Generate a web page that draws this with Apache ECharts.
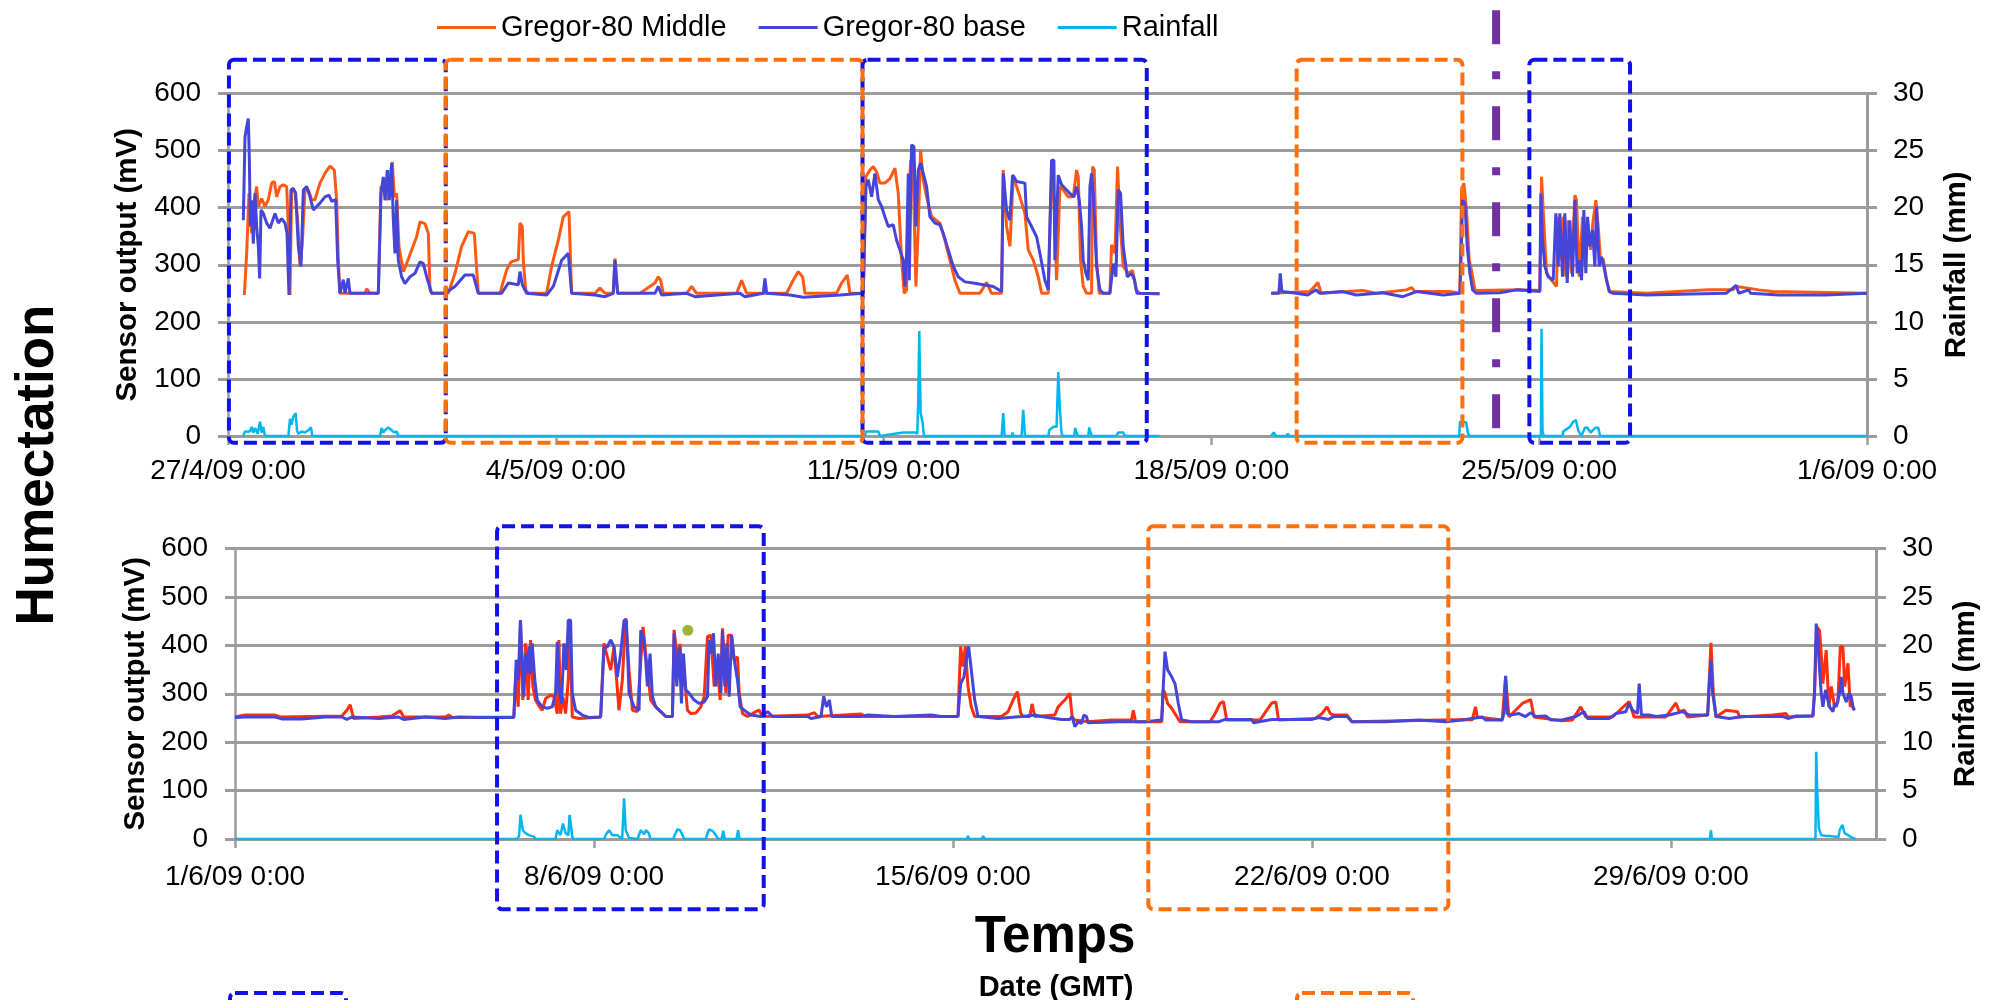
<!DOCTYPE html>
<html><head><meta charset="utf-8">
<script src="https://cdn.jsdelivr.net/npm/echarts@6/dist/echarts.min.js"></script>
<style>html,body{margin:0;padding:0;background:#fff}#c{width:1999px;height:1000px}</style>
</head><body><div id="c"></div><script>
// x values are days since panel start
const topTickLabels = ['27/4/09 0:00','4/5/09 0:00','11/5/09 0:00','18/5/09 0:00','25/5/09 0:00','1/6/09 0:00'];
const bottomTickLabels = ['1/6/09 0:00','8/6/09 0:00','15/6/09 0:00','22/6/09 0:00','29/6/09 0:00'];
const leftTicks = [0,100,200,300,400,500,600];
const rightTicks = [0,5,10,15,20,25,30];

const topMiddle = [[0.349,247],[0.399,320],[0.448,425],[0.505,355],[0.562,413],[0.612,437],[0.648,402],[0.719,416],[0.79,402],[0.861,414],[0.932,443],[0.989,446],[1.039,419],[1.11,437],[1.181,440],[1.253,437],[1.288,367],[1.324,247],[1.359,431],[1.431,428],[1.488,378],[1.537,297],[1.587,338],[1.644,431],[1.715,431],[1.786,414],[1.858,414],[1.964,443],[2.071,460],[2.178,473],[2.27,466],[2.32,414],[2.356,308],[2.391,250],[2.925,250],[2.961,258],[3.032,250],[3.21,250],[3.267,437],[3.338,431],[3.388,413],[3.423,437],[3.509,480],[3.552,419],[3.601,425],[3.651,332],[3.744,288],[3.815,302],[3.922,326],[4.028,349],[4.1,375],[4.206,372],[4.278,355],[4.313,256],[4.349,250],[4.705,250],[4.847,285],[4.989,332],[5.132,358],[5.26,355],[5.345,250],[5.808,250],[5.95,291],[6.043,305],[6.199,309],[6.235,373],[6.285,367],[6.306,308],[6.356,256],[6.413,250],[6.804,250],[6.911,297],[7.053,343],[7.16,384],[7.281,393],[7.338,250],[7.836,250],[7.943,259],[8.05,250],[8.228,250],[8.263,311],[8.32,250],[8.797,250],[9.117,268],[9.189,279],[9.238,273],[9.295,250],[9.794,250],[9.9,262],[10.007,250],[10.861,250],[10.968,273],[11.075,250],[11.929,250],[12.071,273],[12.178,288],[12.27,279],[12.32,250],[12.996,250],[13.103,268],[13.224,282],[13.281,250],[13.566,250],[13.623,454],[13.708,466],[13.779,472],[13.85,463],[13.922,443],[14.028,443],[14.135,451],[14.242,469],[14.313,425],[14.384,308],[14.441,250],[14.491,256],[14.527,396],[14.577,483],[14.633,454],[14.69,262],[14.74,367],[14.79,501],[14.847,448],[14.918,419],[15.025,384],[15.203,373],[15.309,343],[15.416,308],[15.523,273],[15.63,250],[16.057,250],[16.199,269],[16.306,250],[16.52,250],[16.555,466],[16.626,367],[16.698,332],[16.769,457],[16.84,437],[16.911,419],[17.018,390],[17.089,326],[17.196,308],[17.302,279],[17.374,250],[17.516,250],[17.587,466],[17.637,413],[17.694,273],[17.73,355],[17.765,437],[17.836,431],[17.943,419],[18.05,419],[18.121,466],[18.157,454],[18.206,308],[18.263,262],[18.335,250],[18.441,250],[18.463,472],[18.498,466],[18.548,308],[18.605,250],[18.833,250],[18.868,335],[18.94,320],[18.996,472],[19.046,378],[19.117,297],[19.224,285],[19.317,290],[19.395,256],[19.466,250],[19.893,249],[21,null],[22.278,250],[23.096,253],[23.203,262],[23.274,269],[23.345,250],[24.235,255],[24.52,250],[25.164,256],[25.274,260],[25.345,253],[26.093,253],[26.306,250],[26.342,431],[26.391,443],[26.448,396],[26.505,308],[26.555,290],[26.626,256],[26.698,255],[27.587,256],[28.014,255],[28.05,454],[28.1,373],[28.157,285],[28.263,273],[28.37,262],[28.406,384],[28.477,308],[28.512,384],[28.569,279],[28.619,378],[28.69,285],[28.762,422],[28.797,413],[28.854,279],[28.925,384],[28.975,297],[29.025,378],[29.096,326],[29.153,378],[29.21,413],[29.26,367],[29.31,308],[29.367,310],[29.438,273],[29.509,253],[30.292,250],[31.609,256],[31.822,256],[32.135,256],[32.221,262],[32.69,256],[32.975,253],[35,250]];

const topBase = [[0.327,378],[0.363,524],[0.399,542],[0.434,556],[0.456,484],[0.477,367],[0.505,413],[0.541,337],[0.577,425],[0.612,367],[0.648,332],[0.676,276],[0.705,396],[0.754,390],[0.826,373],[0.897,364],[1.004,390],[1.075,373],[1.146,381],[1.217,373],[1.26,355],[1.302,247],[1.345,431],[1.395,434],[1.445,425],[1.502,332],[1.559,297],[1.609,431],[1.68,437],[1.751,419],[1.822,396],[1.893,402],[1.964,408],[2.071,419],[2.157,422],[2.214,411],[2.299,414],[2.342,308],[2.391,250],[2.463,274],[2.498,250],[2.569,276],[2.605,250],[2.676,250],[3.21,250],[3.267,425],[3.317,454],[3.352,413],[3.402,466],[3.445,413],[3.495,478],[3.53,378],[3.566,320],[3.601,413],[3.637,308],[3.708,279],[3.779,267],[3.886,279],[3.993,285],[4.1,305],[4.171,302],[4.242,279],[4.349,250],[4.633,250],[4.847,262],[5.06,282],[5.238,282],[5.345,250],[5.843,250],[5.986,268],[6.199,265],[6.235,288],[6.285,265],[6.377,250],[6.804,247],[6.947,262],[7.125,308],[7.267,320],[7.338,250],[7.836,247],[8.05,244],[8.228,250],[8.263,308],[8.32,250],[8.797,250],[9.117,250],[9.189,262],[9.26,247],[9.794,250],[9.972,244],[10.932,250],[11.039,244],[11.431,250],[11.466,276],[11.502,250],[12.0,247],[12.285,243],[13.068,247],[13.566,250],[13.623,437],[13.673,449],[13.744,419],[13.815,460],[13.886,414],[13.957,402],[14.028,384],[14.1,367],[14.206,370],[14.278,343],[14.349,326],[14.42,308],[14.456,262],[14.491,320],[14.527,460],[14.548,273],[14.598,510],[14.648,507],[14.69,367],[14.74,466],[14.79,478],[14.847,460],[14.918,437],[14.989,384],[15.096,373],[15.203,370],[15.274,355],[15.381,326],[15.488,297],[15.594,279],[15.737,270],[15.915,268],[16.128,265],[16.342,262],[16.52,253],[16.555,460],[16.626,396],[16.698,378],[16.754,457],[16.84,446],[17.018,443],[17.053,384],[17.16,367],[17.267,349],[17.338,320],[17.445,273],[17.516,256],[17.587,483],[17.637,483],[17.658,308],[17.73,457],[17.801,440],[17.872,434],[17.979,425],[18.064,419],[18.121,437],[18.178,413],[18.228,367],[18.263,308],[18.32,285],[18.37,273],[18.406,437],[18.441,460],[18.477,425],[18.548,297],[18.619,256],[18.69,250],[18.833,250],[18.904,302],[18.961,279],[19.01,431],[19.06,425],[19.117,332],[19.203,279],[19.295,285],[19.359,273],[19.409,250],[19.893,249],[21,null],[22.278,250],[22.441,250],[22.47,285],[22.505,253],[22.811,250],[23.06,247],[23.167,253],[23.238,256],[23.31,250],[23.808,253],[24.093,247],[24.662,251],[25.089,244],[25.38,253],[25.95,247],[26.306,250],[26.342,343],[26.363,414],[26.413,407],[26.463,332],[26.52,285],[26.577,256],[26.662,250],[27.16,251],[27.516,256],[28.014,253],[28.036,425],[28.071,343],[28.121,297],[28.192,279],[28.299,273],[28.356,390],[28.406,297],[28.441,390],[28.498,279],[28.548,390],[28.598,268],[28.655,378],[28.712,279],[28.762,414],[28.811,285],[28.854,308],[28.904,273],[28.954,396],[28.996,285],[29.032,384],[29.082,332],[29.139,361],[29.189,297],[29.224,402],[29.281,297],[29.331,314],[29.381,297],[29.438,273],[29.495,253],[29.58,250],[30.292,247],[31.993,250],[32.135,259],[32.206,264],[32.263,250],[32.477,256],[32.512,250],[33.117,247],[34.114,247],[35,250]];

const topRain = [[0.327,0],[0.363,0.4],[0.47,0.4],[0.505,0.8],[0.541,0.3],[0.577,0.7],[0.633,0.2],[0.683,1.25],[0.719,0.3],[0.754,0.8],[0.79,0],[1.288,0],[1.324,1.5],[1.359,1.0],[1.395,1.7],[1.445,2.0],[1.473,0.5],[1.502,0.2],[1.573,0.4],[1.644,0.3],[1.715,0.5],[1.772,0.75],[1.8,0],[3.246,0],[3.281,0.7],[3.317,0.3],[3.352,0.5],[3.423,0.75],[3.495,0.5],[3.552,0.3],[3.601,0.4],[3.637,0],[13.594,0],[13.63,0.4],[13.886,0.4],[13.922,0],[14.42,0.3],[14.669,0.3],[14.719,0.2],[14.74,3.2],[14.762,9.2],[14.79,2.0],[14.833,1.2],[14.861,0],[16.52,0],[16.555,2.0],[16.584,0],[16.74,0],[16.754,0.3],[16.77,0],[16.946,0],[16.982,2.3],[17.018,0],[17.52,0],[17.537,0.5],[17.623,0.8],[17.694,0.8],[17.73,5.6],[17.765,2.3],[17.801,0.2],[17.836,0],[18.07,0],[18.092,0.7],[18.121,0.3],[18.15,0],[18.37,0],[18.392,0.75],[18.42,0.3],[18.45,0],[18.97,0],[19.01,0.3],[19.117,0.3],[19.15,0],[19.893,0],[21,null],[22.278,0],[22.33,0.3],[22.38,0],[22.6,0],[22.63,0.2],[22.66,0],[26.29,0],[26.31,1.25],[26.44,1.2],[26.48,0.2],[26.52,0],[28.036,0],[28.05,9.4],[28.071,0.4],[28.1,0],[28.5,0],[28.512,0.4],[28.655,0.8],[28.726,1.25],[28.783,1.4],[28.833,0.5],[28.9,0],[28.975,0.7],[29.025,0.75],[29.1,0.3],[29.189,0.7],[29.26,0.75],[29.3,0],[35,0]];

const bottomMiddle = [[0,252],[0.195,256],[0.781,256],[0.879,252],[2.084,254],[2.181,266],[2.247,277],[2.312,249],[2.8,252],[3.06,254],[3.158,261],[3.223,265],[3.288,252],[4.102,252],[4.168,256],[4.233,251],[5.437,252],[5.483,349],[5.522,273],[5.567,452],[5.613,287],[5.665,404],[5.717,287],[5.763,411],[5.808,315],[5.86,287],[5.939,273],[5.991,266],[6.056,290],[6.153,297],[6.219,294],[6.284,259],[6.316,411],[6.349,259],[6.394,294],[6.447,259],[6.499,328],[6.531,452],[6.577,252],[6.707,249],[7.13,252],[7.195,404],[7.261,376],[7.326,349],[7.391,397],[7.488,266],[7.553,328],[7.619,456],[7.684,349],[7.749,266],[7.847,263],[7.957,438],[8.009,383],[8.042,349],[8.107,287],[8.204,273],[8.302,263],[8.4,253],[8.53,253],[8.563,432],[8.628,370],[8.68,403],[8.726,315],[8.758,342],[8.823,266],[8.889,259],[8.986,260],[9.083,273],[9.149,294],[9.214,418],[9.279,421],[9.344,315],[9.396,370],[9.461,287],[9.506,435],[9.572,301],[9.617,421],[9.682,421],[9.734,370],[9.799,376],[9.832,301],[9.897,259],[9.995,253],[10.157,263],[10.222,266],[10.288,253],[11.167,256],[11.297,261],[11.362,253],[12.209,258],[12.274,253],[14.098,253],[14.15,398],[14.196,356],[14.241,398],[14.293,315],[14.358,273],[14.424,253],[14.945,253],[15.075,263],[15.173,287],[15.257,304],[15.322,260],[15.368,253],[15.498,253],[15.544,279],[15.596,253],[15.986,256],[16.051,273],[16.182,287],[16.279,301],[16.325,252],[16.377,246],[16.637,242],[17.093,246],[17.484,246],[17.517,266],[17.562,242],[18.07,242],[18.102,308],[18.135,301],[18.187,280],[18.265,270],[18.33,259],[18.428,242],[19.014,242],[19.112,259],[19.209,280],[19.274,284],[19.339,246],[19.991,246],[20.121,266],[20.219,281],[20.297,283],[20.349,246],[21.065,249],[21.196,259],[21.294,273],[21.359,259],[21.424,256],[21.685,256],[21.782,242],[24.062,247],[24.126,246],[24.191,273],[24.224,252],[24.712,246],[24.777,335],[24.842,252],[24.972,266],[25.103,280],[25.266,288],[25.331,252],[25.884,244],[26.08,246],[26.243,273],[26.34,252],[26.861,252],[27.186,284],[27.284,252],[27.903,252],[28.098,281],[28.163,263],[28.261,266],[28.326,252],[28.717,256],[28.782,405],[28.828,301],[28.88,252],[29.076,266],[29.304,263],[29.336,252],[29.987,256],[30.248,259],[30.28,252],[30.769,254],[30.801,301],[30.847,438],[30.899,431],[30.932,383],[30.964,321],[31.029,390],[31.081,273],[31.127,315],[31.192,273],[31.257,283],[31.303,397],[31.355,397],[31.388,315],[31.453,363],[31.498,273],[31.537,280],[31.563,266]];

const bottomBase = [[0,251],[0.195,252],[0.781,252],[0.912,248],[1.302,248],[1.758,252],[2.084,252],[2.181,247],[2.279,252],[2.8,249],[3.191,252],[3.288,247],[3.712,252],[4.102,249],[4.363,252],[4.753,251],[5.437,251],[5.483,370],[5.522,328],[5.567,452],[5.6,349],[5.633,294],[5.665,383],[5.698,342],[5.73,397],[5.763,342],[5.795,404],[5.847,328],[5.893,287],[5.991,273],[6.088,270],[6.186,273],[6.251,301],[6.284,407],[6.316,315],[6.368,280],[6.414,404],[6.459,349],[6.499,452],[6.544,452],[6.577,301],[6.642,266],[6.772,256],[6.902,251],[7.13,252],[7.195,394],[7.261,397],[7.326,411],[7.391,397],[7.456,335],[7.521,383],[7.586,452],[7.632,452],[7.684,301],[7.781,273],[7.879,266],[7.912,431],[7.964,418],[8.009,370],[8.042,315],[8.094,383],[8.139,294],[8.204,273],[8.302,263],[8.4,253],[8.53,253],[8.563,425],[8.615,315],[8.661,397],[8.706,280],[8.745,383],[8.791,308],[8.856,301],[8.954,287],[9.051,280],[9.149,283],[9.214,294],[9.246,411],[9.292,383],[9.331,425],[9.377,315],[9.422,383],[9.474,301],[9.506,431],[9.552,315],[9.591,404],[9.637,294],[9.682,421],[9.734,370],[9.799,328],[9.851,273],[9.929,266],[10.06,256],[10.255,253],[10.385,263],[10.483,253],[11.167,253],[11.232,249],[11.428,253],[11.48,295],[11.532,273],[11.591,287],[11.636,253],[12.209,253],[12.339,256],[12.86,253],[13.576,256],[13.772,253],[14.098,253],[14.15,321],[14.215,335],[14.261,370],[14.306,398],[14.358,349],[14.424,287],[14.489,253],[14.88,249],[15.335,253],[15.596,256],[15.726,253],[16.116,247],[16.279,247],[16.325,253],[16.377,232],[16.442,242],[16.507,239],[16.553,256],[16.605,253],[16.637,240],[17.223,242],[17.744,242],[18.07,246],[18.135,387],[18.187,349],[18.265,335],[18.33,321],[18.395,280],[18.46,246],[18.656,242],[19.177,242],[19.307,247],[19.828,247],[19.861,240],[20.219,247],[21.0,247],[21.131,251],[21.326,247],[21.424,253],[21.685,253],[21.782,242],[22.433,242],[23.085,246],[23.606,242],[23.932,246],[24.126,249],[24.321,252],[24.386,246],[24.712,246],[24.744,259],[24.777,337],[24.81,259],[24.875,256],[25.038,259],[25.168,253],[25.266,261],[25.364,253],[25.559,254],[25.657,246],[25.884,246],[26.145,253],[26.308,263],[26.373,249],[26.796,249],[26.926,259],[27.121,263],[27.186,280],[27.251,266],[27.349,259],[27.382,321],[27.427,256],[27.577,256],[27.707,253],[27.968,256],[28.228,263],[28.359,256],[28.717,256],[28.75,321],[28.782,370],[28.815,301],[28.88,253],[29.141,249],[29.401,253],[29.662,253],[30.183,253],[30.28,249],[30.443,254],[30.769,254],[30.801,301],[30.834,445],[30.866,411],[30.899,350],[30.932,301],[30.964,273],[31.016,308],[31.062,287],[31.094,273],[31.16,263],[31.192,280],[31.225,273],[31.257,270],[31.29,301],[31.322,335],[31.355,301],[31.42,283],[31.472,301],[31.518,294],[31.55,273],[31.583,266]];

const bottomRain = [[0,0],[5.5,0],[5.54,0.3],[5.567,2.5],[5.613,0.9],[5.665,0.6],[5.73,0.4],[5.828,0.25],[5.86,0],[6.25,0],[6.284,0.9],[6.349,0.4],[6.394,1.6],[6.447,0.6],[6.5,0.4],[6.525,2.5],[6.577,0.25],[6.6,0],[7.2,0],[7.228,0.4],[7.293,0.9],[7.358,0.4],[7.456,0.4],[7.55,0],[7.586,4.2],[7.619,0.9],[7.684,0.1],[7.85,0],[7.912,0.9],[7.977,0.5],[8.009,0.9],[8.07,0.6],[8.1,0],[8.55,0],[8.563,0.25],[8.628,1.0],[8.68,0.9],[8.726,0.4],[8.76,0],[9.18,0],[9.214,0.6],[9.246,1.0],[9.31,0.85],[9.377,0.4],[9.42,0],[9.49,0],[9.52,0.85],[9.55,0],[9.78,0],[9.81,0.9],[9.84,0],[14.27,0],[14.293,0.3],[14.32,0],[14.56,0],[14.59,0.3],[14.62,0],[28.76,0],[28.782,0.9],[28.8,0],[30.82,0],[30.834,9.0],[30.853,5.1],[30.886,1.1],[30.932,0.4],[31.029,0.3],[31.094,0.3],[31.27,0.2],[31.29,0.9],[31.342,1.45],[31.388,0.6],[31.485,0.3],[31.55,0.1],[31.6,0]];

const strayPoint = [[8.83, 431]];

// annotation boxes in data coordinates [dayStart, dayEnd]
const topBlueBoxes = [[0.02,4.65],[13.55,19.62],[27.79,29.94]];
const topOrangeBoxes = [[4.65,13.55],[22.82,26.36]];
const bottomBlueBoxes = [[5.11,10.31]];
const bottomOrangeBoxes = [[17.81,23.66]];
const purpleLineDay = 27.08;

const FONT = 'Liberation Sans, Arial, sans-serif';
const GRID_COLOR = '#9c9c9c';
const C_MID = '#ff5a14', C_MID2 = '#ff2e0c', C_BASE = '#4545da', C_RAIN = '#00b6ee';
const C_BOXBLUE = '#1212e6', C_BOXORANGE = '#ff6f0e', C_PURPLE = '#7030a0';

function xAxis(grid, max, labels, ticks, margin) {
  return {
    type: 'value', gridIndex: grid, min: 0, max: max, interval: 7,
    axisLine: {show: true, onZero: false, lineStyle: {color: GRID_COLOR, width: 2.5}},
    axisTick: {show: true, length: 9, lineStyle: {color: GRID_COLOR, width: 2.5}, customValues: ticks},
    axisLabel: {color: '#000', fontSize: 28, fontFamily: FONT, margin: margin, customValues: ticks,
      formatter: v => { const i = Math.round(v / 7); return Math.abs(v - i * 7) < 1e-6 && labels[i] ? labels[i] : ''; }},
    splitLine: {show: false}
  };
}
function yLeft(grid, gap) {
  return {
    type: 'value', gridIndex: grid, min: 0, max: 600, interval: 100, position: 'left',
    name: 'Sensor output (mV)', nameLocation: 'middle', nameGap: gap, nameRotate: 90,
    nameTextStyle: {color: '#000', fontSize: 29.5, fontWeight: 'bold', fontFamily: FONT},
    axisLine: {show: true, lineStyle: {color: GRID_COLOR, width: 2.5}},
    axisTick: {show: true, length: 10, lineStyle: {color: GRID_COLOR, width: 3}},
    axisLabel: {color: '#000', fontSize: 28, fontFamily: FONT, margin: 27},
    splitLine: {show: true, lineStyle: {color: GRID_COLOR, width: 3}}
  };
}
function yRight(grid, gap) {
  return {
    type: 'value', gridIndex: grid, min: 0, max: 30, interval: 5, position: 'right',
    name: 'Rainfall (mm)', nameLocation: 'middle', nameGap: gap, nameRotate: 90,
    nameTextStyle: {color: '#000', fontSize: 29.5, fontWeight: 'bold', fontFamily: FONT},
    axisLine: {show: true, lineStyle: {color: GRID_COLOR, width: 3}},
    axisTick: {show: true, length: 10, lineStyle: {color: GRID_COLOR, width: 3}},
    axisLabel: {color: '#000', fontSize: 28, fontFamily: FONT, margin: 26},
    splitLine: {show: false}
  };
}
function line(name, xi, yi, data, color, width, z) {
  return {name, type: 'line', xAxisIndex: xi, yAxisIndex: yi, data, symbol: 'none', showSymbol: false,
    connectNulls: false, lineStyle: {color, width}, itemStyle: {color}, z: z, silent: true};
}

const option = {
  animation: false,
  backgroundColor: '#fff',
  textStyle: {fontFamily: FONT},
  legend: {
    data: ['Gregor-80 Middle', 'Gregor-80 base', 'Rainfall'],
    icon: 'rect', left: 432, top: 8, itemWidth: 59, itemHeight: 3, itemGap: 32,
    textStyle: {color: '#000', fontSize: 29, fontFamily: FONT}
  },
  grid: [
    {left: 228, top: 93.5, width: 1639, height: 342.5},
    {left: 235, top: 548.5, width: 1641, height: 290.5}
  ],
  xAxis: [xAxis(0, 35, topTickLabels, [0,7,14,21,28,35], 21), xAxis(1, 32, bottomTickLabels, [0,7,14,21,28], 24)],
  yAxis: [yLeft(0, 85), yRight(0, 75), yLeft(1, 84), yRight(1, 75)],
  series: [
    line('Gregor-80 Middle', 0, 0, topMiddle, C_MID, 3, 2),
    line('Gregor-80 base', 0, 0, topBase, C_BASE, 3, 3),
    line('Rainfall', 0, 1, topRain, C_RAIN, 2.5, 4),
    line('Gregor-80 Middle', 1, 2, bottomMiddle, C_MID2, 3, 2),
    line('Gregor-80 base', 1, 2, bottomBase, C_BASE, 3, 3),
    line('Rainfall', 1, 3, bottomRain, C_RAIN, 2.5, 4),
    {type: 'scatter', xAxisIndex: 1, yAxisIndex: 2, data: strayPoint, symbolSize: 11,
      itemStyle: {color: '#84a10a'}, silent: true, z: 5}
  ]
};

const chart = echarts.init(document.getElementById('c'), null, {renderer: 'canvas'});
chart.setOption(option);

function boxGraphic(gridIndex, x0, x1, yTop, yBot, color) {
  const p0 = chart.convertToPixel({gridIndex}, [x0, yTop]);
  const p1 = chart.convertToPixel({gridIndex}, [x1, yBot]);
  return {type: 'rect', z: 100, silent: true,
    shape: {x: p0[0], y: p0[1], width: p1[0] - p0[0], height: p1[1] - p0[1], r: 5},
    style: {fill: null, stroke: color, lineWidth: 4, lineDash: [13, 6]}};
}
const g = [];
topBlueBoxes.forEach(b => g.push(boxGraphic(0, b[0], b[1], 659, -12, C_BOXBLUE)));
topOrangeBoxes.forEach(b => g.push(boxGraphic(0, b[0], b[1], 659, -12, C_BOXORANGE)));
bottomBlueBoxes.forEach(b => g.push(boxGraphic(1, b[0], b[1], 646, -145, C_BOXBLUE)));
bottomOrangeBoxes.forEach(b => g.push(boxGraphic(1, b[0], b[1], 646, -145, C_BOXORANGE)));
const pl0 = chart.convertToPixel({gridIndex: 0}, [purpleLineDay, 746]);
const pl1 = chart.convertToPixel({gridIndex: 0}, [purpleLineDay, 7]);
g.push({type: 'line', z: 101, silent: true, shape: {x1: pl0[0], y1: pl0[1], x2: pl1[0], y2: pl1[1]},
  style: {stroke: C_PURPLE, lineWidth: 8, lineDash: [34, 27, 8, 27]}});
// key boxes cut at the bottom edge
g.push({type: 'rect', z: 100, silent: true, shape: {x: 230, y: 993, width: 116, height: 30, r: 5},
  style: {fill: null, stroke: C_BOXBLUE, lineWidth: 4, lineDash: [13, 6]}});
g.push({type: 'rect', z: 100, silent: true, shape: {x: 1297, y: 993, width: 116, height: 30, r: 5},
  style: {fill: null, stroke: C_BOXORANGE, lineWidth: 4, lineDash: [13, 6]}});
// titles
g.push({type: 'text', silent: true, x: 38, y: 465, rotation: Math.PI / 2,
  style: {text: 'Humectation', fill: '#000', font: 'bold 53px ' + FONT, align: 'center', verticalAlign: 'middle'}});
g.push({type: 'text', silent: true, x: 1055, y: 938,
  style: {text: 'Temps', fill: '#000', font: 'bold 51px ' + FONT, align: 'center', verticalAlign: 'middle'}});
g.push({type: 'text', silent: true, x: 1056, y: 988,
  style: {text: 'Date (GMT)', fill: '#000', font: 'bold 29px ' + FONT, align: 'center', verticalAlign: 'middle'}});
chart.setOption({graphic: g});
</script></body></html>
